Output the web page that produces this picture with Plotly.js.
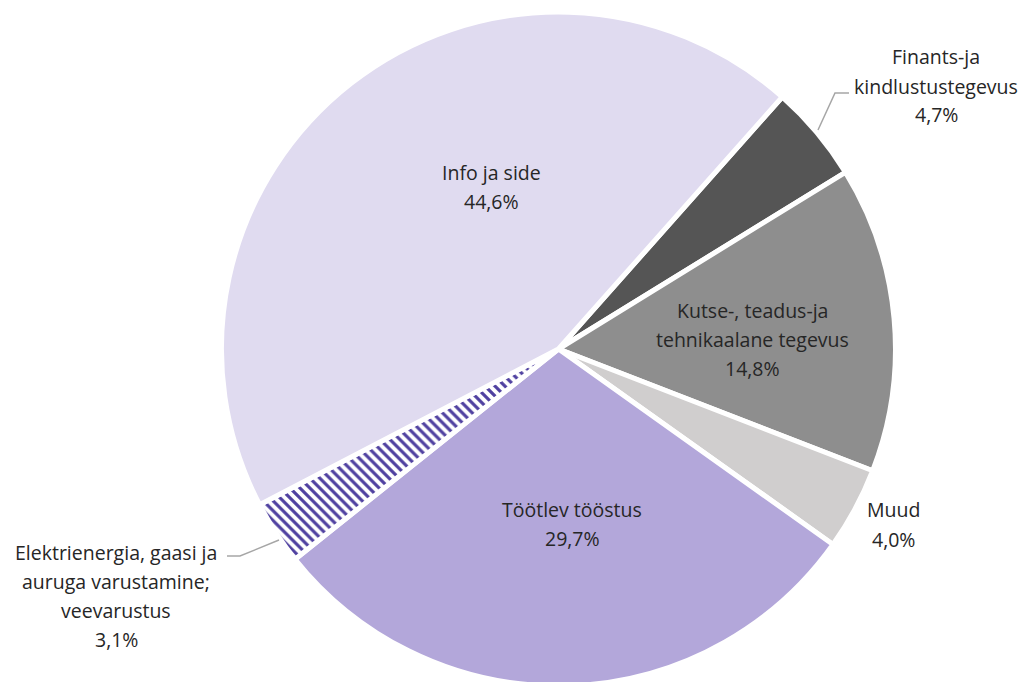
<!DOCTYPE html>
<html>
<head>
<meta charset="utf-8">
<script src="https://cdn.plot.ly/plotly-3.0.1.min.js"></script>
<style>html,body{margin:0;padding:0;overflow:hidden;background:#fff}#chart{width:1026px;height:690px}</style>
</head>
<body>
<div id="chart"></div>
<script>
// Data
const categories = ["Finants-ja kindlustustegevus", "Kutse-, teadus-ja tehnikaalane tegevus", "Muud", "Töötlev tööstus", "Elektrienergia, gaasi ja auruga varustamine; veevarustus", "Info ja side"];
const shares = [4.7, 14.8, 4.0, 29.7, 3.1, 44.6];
// label lines (how each category is wrapped)
const labelLines = [
  ["Finants-ja", "kindlustustegevus"],
  ["Kutse-, teadus-ja", "tehnikaalane tegevus"],
  ["Muud"],
  ["Töötlev tööstus"],
  ["Elektrienergia, gaasi ja", "auruga varustamine;", "veevarustus"],
  ["Info ja side"]
];

const colors = ["#555555", "#8e8e8e", "#d0cece", "#b3a7da", "#ffffff", "#e0dbf0"];
const patterns = ["", "", "", "", "\\", ""];

const fmt = v => v.toFixed(1).replace('.', ',') + '%';

// label anchor positions in pixels (x center, y of first line)
const labelPos = [[936, 57], [752, 310], [893, 510], [572, 509], [116, 552], [491, 172]];
const lineGap = 29;
const W = 1026, H = 690;

const annotations = [];
categories.forEach((c, i) => {
  const lines = labelLines[i].concat([fmt(shares[i])]);
  lines.forEach((t, k) => {
    annotations.push({
      x: labelPos[i][0] / W, y: 1 - (labelPos[i][1] + k * lineGap) / H,
      xref: 'paper', yref: 'paper', text: t, showarrow: false,
      xanchor: 'center', yanchor: 'middle',
      font: {family: '"Open Sans", sans-serif', size: 19.5, color: '#262626'}
    });
  });
});

const shapes = [
  {type: 'path', xref: 'paper', yref: 'paper',
   path: `M ${818/W} ${1-130/H} L ${835/W} ${1-93/H} L ${849/W} ${1-93/H}`,
   line: {color: '#a6a6a6', width: 1.5}},
  {type: 'path', xref: 'paper', yref: 'paper',
   path: `M ${279/W} ${1-540/H} L ${240/W} ${1-556/H} L ${227/W} ${1-556/H}`,
   line: {color: '#a6a6a6', width: 1.5}}
];

const trace = {
  type: 'pie',
  labels: categories,
  values: shares,
  sort: false,
  direction: 'clockwise',
  rotation: 41.6,
  textinfo: 'none',
  hoverinfo: 'label+percent',
  marker: {
    colors: colors,
    line: {color: '#ffffff', width: 5},
    pattern: {shape: patterns, fgcolor: '#4f40a0', bgcolor: '#ffffff', size: 7, solidity: 0.45}
  },
  domain: {x: [0.2158, 0.8728], y: [1 - 686/H, 1 - 12/H]},
  showlegend: false
};

Plotly.newPlot('chart', [trace], {
  width: W, height: H,
  margin: {l: 0, r: 0, t: 0, b: 0},
  paper_bgcolor: '#ffffff',
  annotations: annotations,
  shapes: shapes,
  showlegend: false
}, {staticPlot: true});
</script>
</body>
</html>
